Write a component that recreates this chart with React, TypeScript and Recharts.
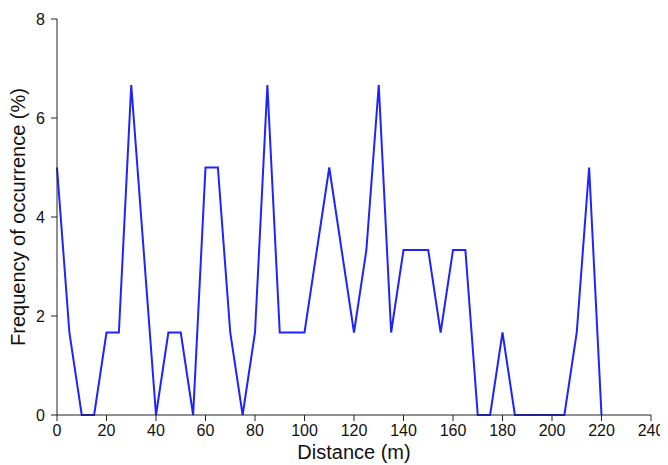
import { LineChart, Line, XAxis, YAxis, Label } from "recharts";

const distances = [
  0, 5, 10, 15, 20, 25, 30, 35, 40, 45, 50, 55, 60, 65, 70, 75, 80, 85, 90, 95,
  100, 105, 110, 115, 120, 125, 130, 135, 140, 145, 150, 155, 160, 165, 170,
  175, 180, 185, 190, 195, 200, 205, 210, 215, 220,
];

const frequency = [
  5, 1.667, 0, 0, 1.667, 1.667, 6.667, 3.333, 0, 1.667, 1.667, 0, 5, 5, 1.667,
  0, 1.667, 6.667, 1.667, 1.667, 1.667, 3.333, 5, 3.333, 1.667, 3.333, 6.667,
  1.667, 3.333, 3.333, 3.333, 1.667, 3.333, 3.333, 0, 0, 1.667, 0, 0, 0, 0, 0,
  1.667, 5, 0,
];

const xTicks = [0, 20, 40, 60, 80, 100, 120, 140, 160, 180, 200, 220, 240];
const yTicks = [0, 2, 4, 6, 8];

const data = distances.map((d, i) => ({ distance: d, freq: frequency[i] }));

const font = "'Liberation Sans', Arial, sans-serif";
const axisColor = "#222";

export default function App() {
  return (
    <div style={{ width: 660, height: 457, fontFamily: font }}>
      <LineChart
        width={660}
        height={457}
        data={data}
        margin={{ top: 11, right: 17, left: 0, bottom: 0 }}
      >
        <XAxis
          dataKey="distance"
          type="number"
          domain={[0, 240]}
          ticks={xTicks}
          interval={0}
          height={50}
          tickSize={6}
          tickMargin={4}
          stroke={axisColor}
          tick={{ fontSize: 16, fill: "#111", fontFamily: font }}
        >
          <Label
            content={({ viewBox }: any) => (
              <text
                x={viewBox.x + viewBox.width / 2}
                y={viewBox.y + 37}
                textAnchor="middle"
                dominantBaseline="central"
                fontSize={20}
                fontFamily={font}
                fill="#111"
              >
                Distance (m)
              </text>
            )}
          />
        </XAxis>
        <YAxis
          type="number"
          domain={[0, 8]}
          ticks={yTicks}
          interval={0}
          width={49}
          tickSize={6}
          tickMargin={6}
          stroke={axisColor}
          tick={{ fontSize: 16, fill: "#111", fontFamily: font }}
        >
          <Label
            content={({ viewBox }: any) => {
              const cx = 10;
              const cy = viewBox.y + viewBox.height / 2;
              return (
                <text
                  x={cx}
                  y={cy}
                  transform={`rotate(-90, ${cx}, ${cy})`}
                  textAnchor="middle"
                  dominantBaseline="central"
                  fontSize={20}
                  fontFamily={font}
                  fill="#111"
                >
                  Frequency of occurrence (%)
                </text>
              );
            }}
          />
        </YAxis>
        <Line
          type="linear"
          dataKey="freq"
          stroke="#1f24ff"
          strokeWidth={2}
          dot={false}
          isAnimationActive={false}
        />
      </LineChart>
    </div>
  );
}
